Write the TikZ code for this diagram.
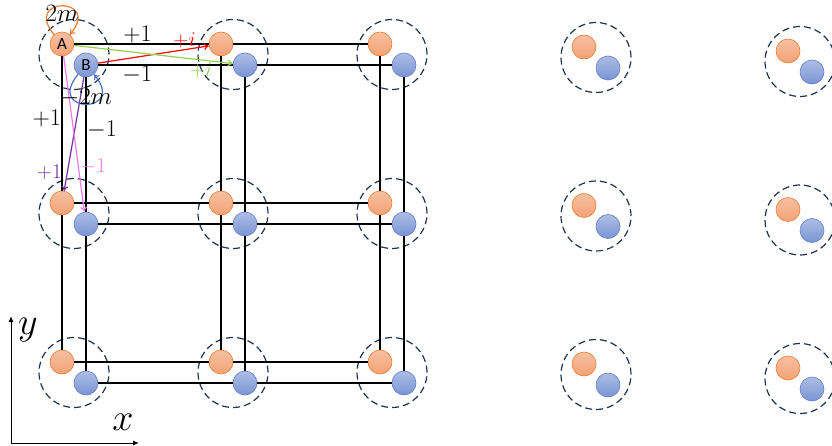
\RequirePackage{fix-cm}
\documentclass[tikz,border=0pt]{standalone}
\usepackage{fontspec}
\newfontfamily\sitefont{Carlito}
\usetikzlibrary{arrows.meta}
\definecolor{orangetop}{RGB}{247,192,162}
\definecolor{orangebot}{RGB}{243,162,118}
\definecolor{orangeline}{RGB}{237,125,49}
\definecolor{bluetop}{RGB}{174,190,228}
\definecolor{bluebot}{RGB}{122,148,212}
\definecolor{blueline}{RGB}{96,128,196}
\definecolor{ringnavy}{RGB}{32,48,78}
\definecolor{hopgreen}{RGB}{146,208,80}
\definecolor{hoppurple}{RGB}{112,48,160}
\definecolor{hopviolet}{RGB}{235,125,235}
\definecolor{loopblue}{RGB}{68,114,196}
\tikzset{
  site/.style={circle, minimum size=24pt, inner sep=0pt, line width=0.6pt,
    font=\sitefont\fontsize{17}{17}\selectfont},
  site-a/.style={site, draw=orangeline, top color=orangetop, bottom color=orangebot},
  site-b/.style={site, draw=blueline, top color=bluetop, bottom color=bluebot},
  cell-ring/.style={circle, minimum size=70pt, inner sep=0pt, draw=ringnavy,
    line width=1.2pt, dash pattern=on 7pt off 4pt},
  bond/.style={line width=1.2pt, draw=black},
  hop/.style={line width=1.2pt, -{To[length=5pt,width=7pt]}},
  axis/.style={line width=1pt, -{Latex[length=6pt,width=5pt]}},
  bond-label/.style={font=\fontsize{24}{24}\selectfont, inner sep=1pt},
  loop-label/.style={font=\fontsize{25}{25}\selectfont, inner sep=0pt},
  hop-label/.style={font=\fontsize{21}{21}\selectfont, inner sep=0pt},
  axis-label/.style={font=\fontsize{38}{38}\selectfont, inner sep=0pt}
}

\begin{document}
\begin{tikzpicture}[x=1pt,y=1pt]
  \useasboundingbox (0,0) rectangle (832,-446);

  % --- Parameters ---
  \def\gap{159}         % lattice spacing
  \def\dx{24}           % B offset to the right
  \def\dy{21}           % B offset downwards

  % --- Connected 3x3 block ---
  \foreach \col in {1,2,3} {
    \foreach \row in {1,2,3} {
      \pgfmathsetmacro{\cx}{62 + (\col-1)*\gap}
      \pgfmathsetmacro{\cy}{-44 - (\row-1)*\gap}
      % only the corner cell carries the site names
      \ifnum\col\row=11
        \def\atext{A}\def\btext{B}
      \else
        \def\atext{}\def\btext{}
      \fi
      \node[cell-ring] (ring\col\row) at (\cx+12,\cy-10.5) {};
      \node[site-a] (a\col\row) at (\cx,\cy) {\atext};
      \node[site-b] (b\col\row) at (\cx+\dx,\cy-\dy) {\btext};
    }
  }

  % --- Loose cells on the right ---
  \foreach \col/\cx/\ystart in {4/584/-47, 5/788/-51} {
    \foreach \row in {1,2,3} {
      \pgfmathsetmacro{\cy}{\ystart - (\row-1)*158.5}
      \node[cell-ring] (ring\col\row) at (\cx+12,\cy-10.5) {};
      \node[site-a] (a\col\row) at (\cx,\cy) {};
      \node[site-b] (b\col\row) at (\cx+\dx,\cy-\dy) {};
    }
  }

  % --- Bonds ---
  \foreach \i in {1,2,3} {
    \draw[bond] (a1\i) -- (a2\i) -- (a3\i);
    \draw[bond] (b1\i) -- (b2\i) -- (b3\i);
    \draw[bond] (a\i1) -- (a\i2) -- (a\i3);
    \draw[bond] (b\i1) -- (b\i2) -- (b\i3);
  }
  \path (a11) -- node[bond-label, above, pos=0.47] {$+1$} (a21);
  \path (b11) -- node[bond-label, below, pos=0.29] {$-1$} (b21);
  \path (a11) -- node[bond-label, left, pos=0.46] {$+1$} (a12);
  \path (b11) -- node[bond-label, right, pos=0.39] {$-1$} (b12);

  % --- Hoppings ---
  \draw[hop, red] (b11) -- node[hop-label, above=1pt, pos=0.78] {$+i$} (a21);
  \draw[hop, hopgreen] (a11) -- node[hop-label, below=2pt, pos=0.8] {$+i$} (b21);
  \draw[hop, hoppurple] (b11) -- node[hop-label, left=5pt, pos=0.84] {$+1$} (a12);
  \draw[hop, hopviolet] (a11) -- node[hop-label, right=1pt, pos=0.71] {$-1$} (b12);

  % --- On-site terms ---
  \draw[hop, orangeline] (a11.130) .. controls +(130:50pt) and +(50:50pt)
    .. node[loop-label, pos=0.5, below=-1pt, text=black] {$2m$} (a11.50);
  \draw[hop, loopblue] (b11.230) .. controls +(230:52pt) and +(310:52pt)
    .. node[loop-label, pos=0.5, above=-3pt, text=black] {$-2m$} (b11.310);

  % --- Axes ---
  \coordinate (origin) at (11,-443);
  \coordinate (y-tip) at (11,-316);
  \coordinate (x-tip) at (139,-443);
  \draw[axis] (origin) -- (y-tip);
  \draw[axis] (origin) -- (x-tip);
  \node[axis-label] (y-label) at (28,-330) {$y$};
  \node[axis-label] (x-label) at (123,-422) {$x$};
\end{tikzpicture}
\end{document}
